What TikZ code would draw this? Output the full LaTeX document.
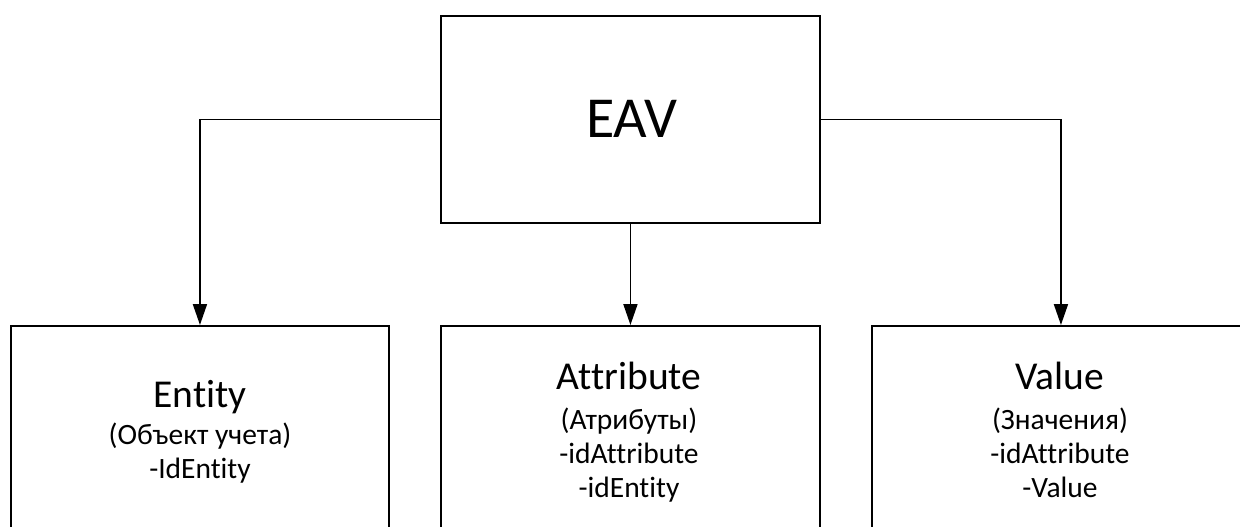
\documentclass[tikz,border=0pt]{standalone}
\usepackage{fontspec}
\setmainfont{Carlito}[RawFeature={-liga;-clig}]
\usetikzlibrary{arrows.meta}
\begin{document}
\begin{tikzpicture}[x=1pt,y=-1pt,
  box/.style={draw, line width=1.9pt, rectangle, inner sep=0pt, anchor=north west},
  arr/.style={draw, line width=1.9pt, -{Triangle[length=21pt,width=14pt]}},
  big/.style={inner sep=0pt, anchor=base, font=\fontsize{58}{62}\selectfont},
  ttl/.style={inner sep=0pt, anchor=base, font=\fontsize{39.5}{42}\selectfont},
  sml/.style={inner sep=0pt, anchor=base, font=\fontsize{29.5}{33}\selectfont}]
\useasboundingbox (0,0) rectangle (1240,527);
\clip (0,0) rectangle (1240,527);
\fill[white] (0,0) rectangle (1240,527);
\node[box, minimum width=379pt, minimum height=207pt] (eav) at (440,15) {};
\node[box, minimum width=378pt, minimum height=240pt] (ent) at (10,325) {};
\node[box, minimum width=379pt, minimum height=240pt] (att) at (440,325) {};
\node[box, minimum width=378pt, minimum height=240pt] (val) at (871,325) {};
\node[big] (teav) at (632,137) {EAV};
\node[ttl] (tent) at (200,407) {Entity};
\node[sml] (tent1) at (200,444) {(Объект учета)};
\node[sml] (tent2) at (200,478) {-IdEntity};
\node[ttl] (tatt) at (629,389) {Attribute};
\node[sml] (tatt1) at (629,429) {(Атрибуты)};
\node[sml] (tatt2) at (629,463) {-idAttribute};
\node[sml] (tatt3) at (629,497) {-idEntity};
\node[ttl] (tval) at (1060,389) {Value};
\node[sml] (tval1) at (1060,429) {(Значения)};
\node[sml] (tval2) at (1060,463) {-idAttribute};
\node[sml] (tval3) at (1060,497) {-Value};
\draw[arr] (eav.west) -| (ent.north);
\draw[arr] (eav.south) -- (att.north);
\draw[arr] (eav.east) -| (val.north);
\end{tikzpicture}
\end{document}
